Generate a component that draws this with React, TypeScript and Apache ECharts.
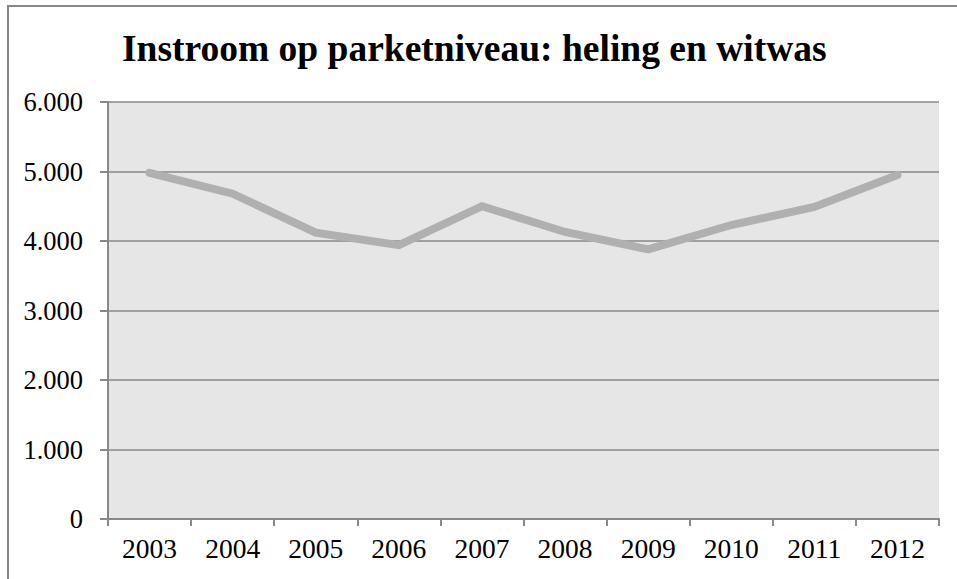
import React, { useEffect, useRef } from "react";
import * as echarts from "echarts";

const TITLE = "Instroom op parketniveau: heling en witwas";
const years = ["2003", "2004", "2005", "2006", "2007", "2008", "2009", "2010", "2011", "2012"];
const values = [4980, 4680, 4120, 3940, 4500, 4130, 3880, 4230, 4490, 4950];
const yTicks = [0, 1000, 2000, 3000, 4000, 5000, 6000];

const FONT = '"Liberation Serif", "Times New Roman", serif';

export default function App() {
  const ref = useRef<HTMLDivElement>(null);
  useEffect(() => {
    if (!ref.current) return;
    const chart = echarts.init(ref.current, null, { renderer: "svg" });
    chart.setOption({
      animation: false,
      backgroundColor: "#ffffff",
      title: {
        text: TITLE,
        left: 117,
        top: 24,
        textStyle: { fontFamily: FONT, fontWeight: "bold", fontSize: 37.5, color: "#000" },
      },
      graphic: [
        {
          type: "rect",
          shape: { x: 8, y: 6, width: 1200, height: 1200 },
          style: { fill: "none", stroke: "#888888", lineWidth: 2 },
          silent: true,
        },
      ],
      grid: {
        left: 108,
        right: 18,
        top: 102,
        bottom: 60,
        show: true,
        backgroundColor: "#e6e6e6",
        borderWidth: 0,
      },
      xAxis: {
        type: "category",
        data: years,
        boundaryGap: true,
        axisLine: { show: true, lineStyle: { color: "#888888", width: 2 } },
        axisTick: { show: true, alignWithLabel: false, length: 7, lineStyle: { color: "#888888", width: 2 } },
        axisLabel: { fontFamily: FONT, fontSize: 27.5, color: "#000", margin: 15 },
        splitLine: { show: false },
      },
      yAxis: {
        type: "value",
        min: yTicks[0],
        max: yTicks[yTicks.length - 1],
        interval: 1000,
        axisLine: { show: true, lineStyle: { color: "#888888", width: 2 } },
        axisTick: { show: true, length: 8, lineStyle: { color: "#888888", width: 2 } },
        axisLabel: {
          fontFamily: FONT,
          fontSize: 26.5,
          color: "#000",
          margin: 25,
          formatter: (v: number) => (v === 0 ? "0" : v.toLocaleString("de-DE")),
        },
        splitLine: { show: true, lineStyle: { color: "#888888", width: 1.5 } },
      },
      series: [
        {
          type: "line",
          data: values,
          symbol: "none",
          lineStyle: { color: "#b0b0b0", width: 8, cap: "round", join: "miter" },
        },
      ],
    });
    return () => chart.dispose();
  }, []);
  return (
    <div
      ref={ref}
      style={{ position: "fixed", left: 0, top: 0, width: 957, height: 579 }}
    />
  );
}
